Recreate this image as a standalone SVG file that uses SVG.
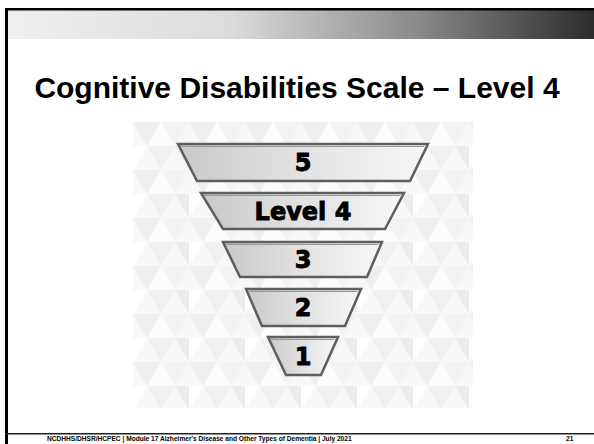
<svg xmlns="http://www.w3.org/2000/svg" width="594" height="444" viewBox="0 0 594 444">
<defs>
<linearGradient id="hdr" x1="0" y1="0" x2="1" y2="0">
<stop offset="0" stop-color="#efefef"/>
<stop offset="0.38" stop-color="#dcdcdc"/>
<stop offset="0.7" stop-color="#8a8a8a"/>
<stop offset="1" stop-color="#2c2c2c"/>
</linearGradient>
<linearGradient id="tz" x1="0" y1="0" x2="1" y2="0">
<stop offset="0" stop-color="#c9c9c9"/>
<stop offset="0.5" stop-color="#e2e2e2"/>
<stop offset="1" stop-color="#f7f7f7"/>
</linearGradient>
<pattern id="tri" x="133" y="122" width="56" height="48" patternUnits="userSpaceOnUse">
<rect width="56" height="48" fill="#f8f8f8"/>
<polygon points="0,0 28,0 14,24" fill="#efefef"/>
<polygon points="28,0 56,0 42,24" fill="#f3f3f3"/>
<polygon points="14,24 42,24 28,48" fill="#f1f1f1"/>
<polygon points="0,24 14,24 0,48" fill="#ffffff"/>
<polygon points="42,24 56,24 56,48" fill="#ededed"/>
<polygon points="28,0 42,24 14,24" fill="#fcfcfc"/>
</pattern>
<style>
.tz{fill:url(#tz);stroke:#5e5e5e;stroke-width:2.5;stroke-linejoin:miter}
.hl{fill:none;stroke:#9a9a9a;stroke-width:1}
.lbl{font-family:"DejaVu Sans",sans-serif;font-weight:bold;font-size:24px;fill:#000;stroke:#000;stroke-width:0.9;text-anchor:middle}
.title{font-family:"Liberation Sans",Arial,sans-serif;font-weight:bold;font-size:30px;fill:#000;text-anchor:middle}
.foot{font-family:"Liberation Sans",Arial,sans-serif;font-weight:bold;font-size:6.6px;fill:#000}
</style>
</defs>
<rect width="594" height="444" fill="#ffffff"/>
<rect x="5" y="10" width="589" height="29" fill="url(#hdr)"/>
<rect x="5" y="8" width="589" height="2.5" fill="#000"/>
<rect x="5" y="8" width="3" height="436" fill="#000"/>
<rect x="5" y="433" width="589" height="1.5" fill="#222"/>
<text class="title" x="297" y="98">Cognitive Disabilities Scale – Level 4</text>
<rect x="133" y="122" width="340" height="286" fill="url(#tri)"/>
<g id="level5">
<polygon class="tz" points="178,144 428,144 410,181 197,181"/>
<polyline class="hl" points="181,146.5 424.5,146.5"/>
<text class="lbl" x="303" y="171">5</text>
</g>
<g id="level4">
<polygon class="tz" points="201,193 404,193 385,229 223,229"/>
<polyline class="hl" points="204,195.5 400.5,195.5"/>
<text class="lbl" x="303" y="220">Level 4</text>
</g>
<g id="level3">
<polygon class="tz" points="223,242 382,242 367,277 240,277"/>
<polyline class="hl" points="226,244.5 378.5,244.5"/>
<text class="lbl" x="303" y="268">3</text>
</g>
<g id="level2">
<polygon class="tz" points="246,289 361,289 345,326 262,326"/>
<polyline class="hl" points="249,291.5 357.5,291.5"/>
<text class="lbl" x="303" y="316">2</text>
</g>
<g id="level1">
<polygon class="tz" points="268,337 338,337 321,375 286,375"/>
<polyline class="hl" points="271,339.5 334.5,339.5"/>
<text class="lbl" x="303" y="365">1</text>
</g>
<g id="connectors"/>
<text class="foot" x="47" y="441">NCDHHS/DHSR/HCPEC | Module 17 Alzheimer's Disease and Other Types of Dementia | July 2021</text>
<text class="foot" x="566" y="441">21</text>
</svg>
